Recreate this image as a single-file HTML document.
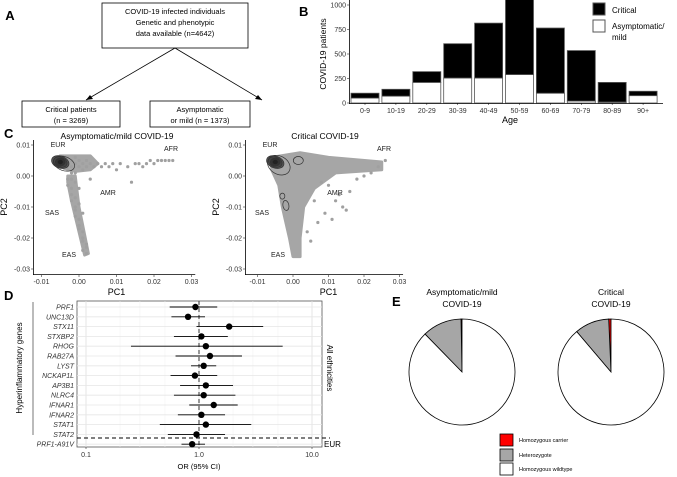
<!DOCTYPE html>
<html><head><meta charset="utf-8"><style>
body{margin:0;background:#fff}
svg{display:block;font-family:"Liberation Sans",Arial,sans-serif}
</style></head><body>
<svg id="fig" width="677" height="477" viewBox="0 0 677 477">
<g font-size="7.5" text-anchor="middle" fill="#000">
<text x="10" y="20" font-size="13" font-weight="bold">A</text>
<rect x="102" y="3" width="146" height="45" fill="#fff" stroke="#000" stroke-width="0.8"/>
<text x="175" y="14">COVID-19 infected individuals</text>
<text x="175" y="25">Genetic and phenotypic</text>
<text x="175" y="36">data available (n=4642)</text>
<line x1="175" y1="48" x2="86" y2="100" stroke="#000" stroke-width="0.8"/>
<path d="M86 100 l7 -1 l-3 -4 z"/>
<line x1="175" y1="48" x2="262" y2="100" stroke="#000" stroke-width="0.8"/>
<path d="M262 100 l-7 -1 l3 -4 z"/>
<rect x="22" y="101" width="98" height="26" fill="#fff" stroke="#000" stroke-width="0.8"/>
<text x="71" y="112">Critical patients</text>
<text x="71" y="123">(n = 3269)</text>
<rect x="150" y="101" width="100" height="26" fill="#fff" stroke="#000" stroke-width="0.8"/>
<text x="200" y="112">Asymptomatic</text>
<text x="200" y="123">or mild (n = 1373)</text>
</g>
<g id="pB"></g>
<g id="pC"></g>
<g id="pD"></g>
<g id="pE"></g>
</svg>
<script>
// ---- Panel B data ----
const ageGroups=["0-9","10-19","20-29","30-39","40-49","50-59","60-69","70-79","80-89","90+"];
const mildCounts=[50,70,210,255,255,290,100,20,10,75];
const criticalCounts=[50,70,110,350,560,780,665,515,200,45];
// ---- Panel C data (units of 0.001) ----
const mildPtsX=[-4,-3,-3,-2,-2,-1,-1,0,0,1,1,2,2,3,4,5,6,7,8,9,10,11,13,15,16,17,18,19,20,21,22,23,24,25,14,-3,-2,-1,-3,-2,-3,-2,-1,0,-2,-1,-2,-1,-1,-1,0,0,0,1,1,1,2,2,1,2,3,1,0];
const mildPtsY=[5,4,6,5,3,4,6,5,3,4,2,5,3,4,3,4,3,4,3,4,2,4,3,4,4,3,4,5,4,5,5,5,5,5,-2,2,1,1,-1,-1,-3,-4,-2,-4,-6,-7,-8,-10,-11,-13,-14,-16,-17,-18,-20,-21,-22,-23,-24,-25,-1,-12,-9];
const mildDenseX=[-5,3,5,3,-1,-4];
const mildDenseY=[6.5,6.5,4,2,1.5,2.5];
const mildArmX=[-3,-1,0,2,2.5,1.5,0,-2,-3];
const mildArmY=[0,0,-10,-22,-25,-25.5,-18,-8,-2];
const critDenseX=[-6,2,10,25,25,12,6,3,2,2,0,-1,-3,-4,-6];
const critDenseY=[6,7.5,6,4.5,2,1,-4,-10,-20,-26,-26,-20,-10,-3,2];
const critPtsX=[8,10,12,14,11,9,16,20,22,6,7,4,15,18,13,5,24,26];
const critPtsY=[-2,-3,-8,-10,-14,-12,-5,0,1,-8,-15,-18,-11,-1,-6,-21,3,5];
// ---- Panel D data ----
const genes=["PRF1","UNC13D","STX11","STXBP2","RHOG","RAB27A","LYST","NCKAP1L","AP3B1","NLRC4","IFNAR1","IFNAR2","STAT1","STAT2","PRF1-A91V"];
const orVals=[0.93,0.8,1.85,1.05,1.15,1.25,1.1,0.92,1.15,1.1,1.35,1.05,1.15,0.95,0.87];
const ciLow=[0.55,0.57,0.95,0.6,0.25,0.62,0.85,0.56,0.68,0.6,0.82,0.65,0.45,0.53,0.7];
const ciHigh=[1.45,1.13,3.7,1.8,5.5,2.4,1.42,1.45,2.0,2.1,2.2,1.7,2.9,1.7,1.13];
const orTicks=[0.1,1.0,10.0];
// ---- Panel E data (fractions) ----
const pieGroups=["Asymptomatic/mild","Critical"];
const pieHomCarrier=[0.003,0.007];
const pieHetero=[0.12,0.105];

const NS="http://www.w3.org/2000/svg";
function mk(parent,tag,attrs,text){const e=document.createElementNS(NS,tag);for(const k in attrs)e.setAttribute(k,attrs[k]);if(text!==undefined)e.textContent=text;parent.appendChild(e);return e;}

// ===== Panel B =====
(function(){
const g=document.getElementById('pB');
const y0=103, k=98/1000, x0=365, step=30.9, bw=28, ax=349;
const yS=v=>y0-v*k, xS=i=>x0+i*step;
let t=mk(g,'text',{x:299,y:16,'font-size':13,'font-weight':'bold'},'B');

const clip=mk(g,'clipPath',{id:'bclip'});mk(clip,'rect',{x:ax,y:0,width:320,height:104});
const bars=mk(g,'g',{'clip-path':'url(#bclip)'});
ageGroups.forEach((a,i)=>{
 const xm=xS(i)-bw/2;
 let r=mk(bars,'rect',{x:xm,y:yS(mildCounts[i]),width:bw,height:mildCounts[i]*k,fill:'#fff',stroke:'#555','stroke-width':0.8});
 
 const tot=mildCounts[i]+criticalCounts[i];
 r=mk(bars,'rect',{x:xm,y:yS(tot),width:bw,height:criticalCounts[i]*k,fill:'#000',stroke:'#555','stroke-width':0.8});
 
 t=mk(g,'text',{x:xS(i),y:113,'font-size':7,'text-anchor':'middle',fill:'#333'},a);
 
 mk(g,'line',{x1:xS(i),x2:xS(i),y1:103,y2:105,stroke:'#333','stroke-width':0.6});
});
mk(g,'line',{x1:ax,x2:663,y1:103.5,y2:103.5,stroke:'#000','stroke-width':0.8});
mk(g,'line',{x1:ax+.5,x2:ax+.5,y1:0,y2:104,stroke:'#000','stroke-width':0.8});
[0,250,500,750,1000].forEach(v=>{
 mk(g,'line',{x1:ax-2,x2:ax,y1:yS(v),y2:yS(v),stroke:'#333','stroke-width':0.6});
 t=mk(g,'text',{x:ax-3,y:yS(v)+2.5,'font-size':7,'text-anchor':'end',fill:'#333'},String(v));
 
});
t=mk(g,'text',{x:510,y:123,'font-size':9,'text-anchor':'middle'},'Age');

t=mk(g,'text',{x:0,y:0,'font-size':8.5,'text-anchor':'middle',transform:'translate(326,54) rotate(-90)'},'COVID-19 patients');

let r=mk(g,'rect',{x:593,y:3,width:12,height:12,fill:'#000',stroke:'#555'});

t=mk(g,'text',{x:612,y:13,'font-size':8},'Critical');

r=mk(g,'rect',{x:593,y:20,width:12,height:12,fill:'#fff',stroke:'#555'});

t=mk(g,'text',{x:612,y:29,'font-size':8},'Asymptomatic/');

mk(g,'text',{x:612,y:40,'font-size':8},'mild');
})();

// ===== Panel C =====
(function(){
const g=document.getElementById('pC');
let t=mk(g,'text',{x:4,y:138,'font-size':13,'font-weight':'bold'},'C');

const yS=v=>176-v*3.1;
function plot(ax,zeroX,pxPer,title,titleX,dense,pts,contours,labels,name){
 const sub=mk(g,'g',{});
 
 const xS=v=>zeroX+v*pxPer/100;
 dense.forEach(([X,Y])=>{
  mk(sub,'polygon',{points:X.map((x,i)=>xS(x)+','+yS(Y[i])).join(' '),fill:'#a6a6a6',stroke:'#a6a6a6','stroke-width':3,'stroke-linejoin':'round'});
 });
 pts[0].forEach((x,i)=>{
  const c=mk(sub,'circle',{cx:xS(x),cy:yS(pts[1][i]),r:1.6,fill:'#a0a0a0'});
  
 });
 contours.forEach(c=>mk(sub,'ellipse',{cx:xS(c[0]),cy:yS(c[1]),rx:c[2],ry:c[3],fill:c[4]||'none',stroke:'#333','stroke-width':0.7,transform:c[5]?`rotate(${c[5]} ${xS(c[0])} ${yS(c[1])})`:''}));
 mk(sub,'line',{x1:ax,x2:xS(31),y1:274.5,y2:274.5,stroke:'#000','stroke-width':0.8});
 mk(sub,'line',{x1:ax+.5,x2:ax+.5,y1:140,y2:275,stroke:'#000','stroke-width':0.8});
 [-10,0,10,20,30].forEach(v=>{
  mk(sub,'line',{x1:xS(v),x2:xS(v),y1:275,y2:277,stroke:'#333','stroke-width':0.6});
  t=mk(sub,'text',{x:xS(v),y:284,'font-size':7,'text-anchor':'middle',fill:'#333'},(v/1000).toFixed(2));
  
 });
 [10,0,-10,-20,-30].forEach(v=>{
  mk(sub,'line',{x1:ax-2,x2:ax,y1:yS(v),y2:yS(v),stroke:'#333','stroke-width':0.6});
  t=mk(sub,'text',{x:ax-3,y:yS(v)+2.5,'font-size':7,'text-anchor':'end',fill:'#333'},(v/1000).toFixed(2));
  
 });
 t=mk(sub,'text',{x:xS(10),y:295,'font-size':9,'text-anchor':'middle'},'PC1');
 
 t=mk(sub,'text',{x:0,y:0,'font-size':9,'text-anchor':'middle',transform:`translate(${ax-26},207) rotate(-90)`},'PC2');
 
 t=mk(sub,'text',{x:titleX,y:139,'font-size':8.5,'text-anchor':'middle'},title);
 
 labels.forEach(l=>{t=mk(sub,'text',{x:l[1],y:l[2],'font-size':7,'text-anchor':'middle',fill:'#222'},l[0]);});
}
const eur=[[-5,4.5,9,6,'#555',20],[-5,4.5,7,5,'#444',20],[-5,4.5,5,4,'#333'],[-5,4.5,3,2.5,'#222']];
plot(33,79,375,'Asymptomatic/mild COVID-19',117,[[mildDenseX,mildDenseY],[mildArmX,mildArmY]],[mildPtsX,mildPtsY],
 eur.concat([[-4,4,11,7,null,20]]),[['EUR',58,147],['AFR',171,151],['AMR',108,195],['SAS',52,215],['EAS',69,257]],'pca-mild');
plot(245,293,355,'Critical COVID-19',325,[[critDenseX,critDenseY]],[critPtsX,critPtsY],
 eur.concat([[-4,3.5,12,9,null,30],[1.5,5,5,4],[-3,-6.5,2.5,3],[-2,-9.5,3,5,null,-10]]),[['EUR',270,147],['AFR',384,151],['AMR',335,195],['SAS',262,215],['EAS',278,257]],'pca-critical');
})();

// ===== Panel D =====
(function(){
const g=document.getElementById('pD');
const xS=v=>199+113*Math.log10(v), yS=i=>307+i*9.8;
let t=mk(g,'text',{x:4,y:300,'font-size':13,'font-weight':'bold'},'D');

mk(g,'rect',{x:77,y:301,width:245,height:146,fill:'#fff',stroke:'#555','stroke-width':0.8});
[0.2,0.3,0.5,2,3,5].forEach(v=>mk(g,'line',{x1:xS(v),x2:xS(v),y1:301,y2:447,stroke:'#f0f0f0','stroke-width':0.5}));
orTicks.forEach(v=>{
 mk(g,'line',{x1:xS(v),x2:xS(v),y1:301,y2:447,stroke:'#e0e0e0','stroke-width':0.8});
 mk(g,'line',{x1:xS(v),x2:xS(v),y1:447,y2:449,stroke:'#333','stroke-width':0.6});
 t=mk(g,'text',{x:xS(v),y:457,'font-size':7,'text-anchor':'middle',fill:'#333'},v.toFixed(1));
 
});
genes.forEach((gn,i)=>mk(g,'line',{x1:77,x2:322,y1:yS(i),y2:yS(i),stroke:'#e6e6e6','stroke-width':0.8}));
mk(g,'line',{x1:199,x2:199,y1:301,y2:447,stroke:'#555','stroke-width':1.2,'stroke-dasharray':'4,3'});
mk(g,'line',{x1:77,x2:330,y1:438,y2:438,stroke:'#000','stroke-width':0.9,'stroke-dasharray':'4,3'});
genes.forEach((gn,i)=>{
 const y=yS(i);
 let l=mk(g,'line',{x1:xS(ciLow[i]),x2:xS(ciHigh[i]),y1:y,y2:y,stroke:'#000','stroke-width':0.9});
 
 let c=mk(g,'circle',{cx:xS(orVals[i]),cy:y,r:3.2,fill:'#000'});
 
 t=mk(g,'text',{x:74,y:y+2.5,'font-size':7,'text-anchor':'end','font-style':'italic',fill:'#333'},gn);
 
});
mk(g,'line',{x1:33,x2:33,y1:302,y2:435,stroke:'#555','stroke-width':0.8});
t=mk(g,'text',{x:0,y:0,'font-size':8,'text-anchor':'middle',transform:'translate(22,368) rotate(-90)'},'Hyperinflammatory genes');

t=mk(g,'text',{x:0,y:0,'font-size':8,'text-anchor':'middle',transform:'translate(327,368) rotate(90)'},'All ethnicities');

t=mk(g,'text',{x:324,y:447,'font-size':8},'EUR');

t=mk(g,'text',{x:199,y:469,'font-size':7.5,'text-anchor':'middle'},'OR (95% CI)');

})();

// ===== Panel E =====
(function(){
const g=document.getElementById('pE');
let t=mk(g,'text',{x:392,y:306,'font-size':13,'font-weight':'bold'},'E');

const cxs=[462,611], cy=372, R=53;
function pt(cx,f){const a=-Math.PI/2-f*2*Math.PI;return [cx+R*Math.cos(a),cy+R*Math.sin(a)];}
function slice(cx,f0,f1,fill,name){
 const p0=pt(cx,f0),p1=pt(cx,f1),large=(f1-f0)>0.5?1:0;
 const p=mk(g,'path',{d:`M${cx},${cy} L${p0[0]},${p0[1]} A${R},${R} 0 ${large} 0 ${p1[0]},${p1[1]} Z`,fill,stroke:'#000','stroke-width':0.8});
 
}
pieGroups.forEach((grp,i)=>{
 const cx=cxs[i],h=pieHomCarrier[i],he=pieHetero[i];
 slice(cx,0,h,'#ff0000','pie-homozygous-carrier');
 slice(cx,h,h+he,'#a6a6a6','pie-heterozygote');
 slice(cx,h+he,0.9999,'#fff','pie-homozygous-wildtype');
 t=mk(g,'text',{x:cx,y:295,'font-size':8.5,'text-anchor':'middle'},grp);
 
 mk(g,'text',{x:cx,y:307,'font-size':8.5,'text-anchor':'middle'},'COVID-19');
});
const leg=[['#ff0000','Homozygous carrier',434],['#a6a6a6','Heterozygote',449],['#fff','Homozygous wildtype',463]];
leg.forEach(l=>{
 let r=mk(g,'rect',{x:500,y:l[2],width:13,height:12,fill:l[0],stroke:'#000','stroke-width':0.8});
 
 t=mk(g,'text',{x:519,y:l[2]+8,'font-size':5.5},l[1]);
 
});
})();
</script>
</body></html>
